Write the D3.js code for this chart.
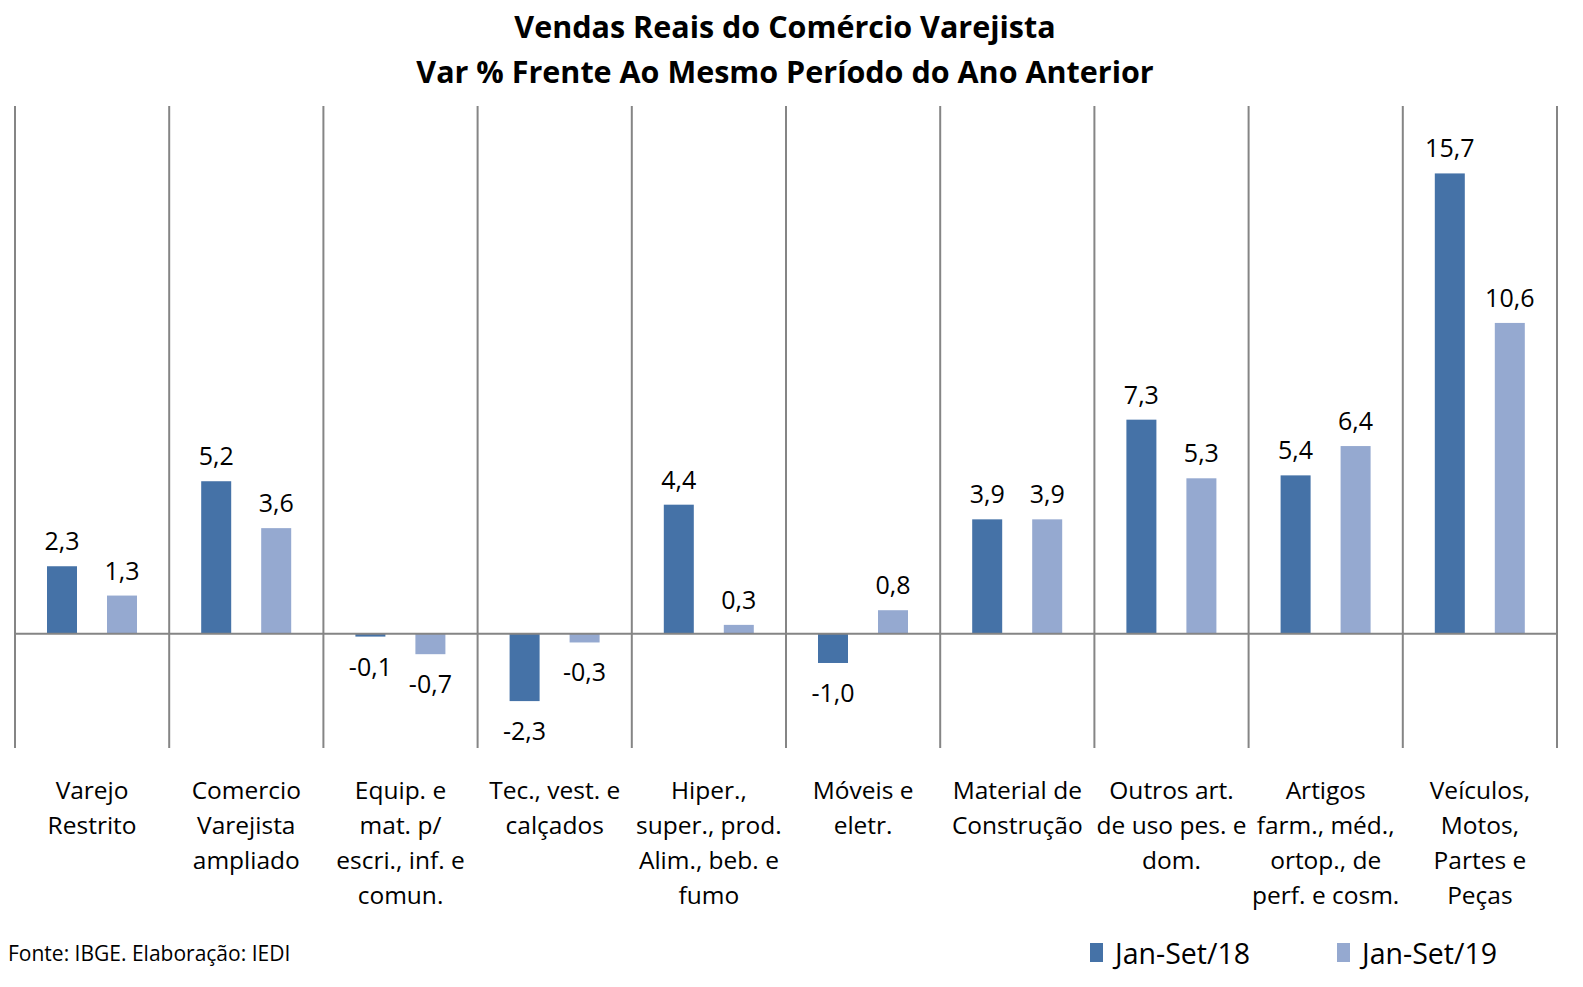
<!DOCTYPE html>
<html><head><meta charset="utf-8">
<script src="https://cdn.jsdelivr.net/npm/d3@7"></script>
<style>html,body{margin:0;padding:0;background:#fff;overflow:hidden}svg{display:block}text{font-family:"Open Sans",sans-serif;fill:#000}</style>
</head><body><svg id="c" width="1583" height="987"></svg>
<script>
const categories = [
  ["Varejo","Restrito"],
  ["Comercio","Varejista","ampliado"],
  ["Equip. e","mat. p/","escri., inf. e","comun."],
  ["Tec., vest. e","calçados"],
  ["Hiper.,","super., prod.","Alim., beb. e","fumo"],
  ["Móveis e","eletr."],
  ["Material de","Construção"],
  ["Outros art.","de uso pes. e","dom."],
  ["Artigos","farm., méd.,","ortop., de","perf. e cosm."],
  ["Veículos,","Motos,","Partes e","Peças"]
];
const seriesNames = ["Jan-Set/18","Jan-Set/19"];
const jan18 = [2.3, 5.2, -0.1, -2.3, 4.4, -1.0, 3.9, 7.3, 5.4, 15.7];
const jan19 = [1.3, 3.6, -0.7, -0.3, 0.3, 0.8, 3.9, 5.3, 6.4, 10.6];
const colors = ["#4572a7","#95a9d0"];
const title = ["Vendas Reais do Comércio Varejista","Var % Frente Ao Mesmo Período do Ano Anterior"];
const source = "Fonte: IBGE. Elaboração: IEDI";

const svg = d3.select("#c");
const L=15, R=1557, T=106, B=748;
const idx = d3.range(categories.length);
const x = d3.scaleBand().domain(idx).range([L,R]).padding(0);
const y = d3.scaleLinear().domain([-3.9,18]).range([B,T]);
const bw = 30;
const offs = [32, 92];
const fmt = v => d3.format(".1f")(v).replace(".",",").replace("−","-");

// title
svg.selectAll("text.title").data(title).join("text")
  .attr("x",785).attr("y",(d,i)=>38+i*45).attr("text-anchor","middle")
  .style("font-size","30.5px").style("font-weight","bold").text(d=>d);

// grid verticals
const bounds = idx.map(i=>x(i)).concat([R]);
svg.selectAll("line.v").data(bounds).join("line")
  .attr("x1",d=>d).attr("x2",d=>d).attr("y1",T).attr("y2",B)
  .attr("stroke","#858585").attr("stroke-width",2);

// bars
const series=[jan18,jan19];
series.forEach((s,si)=>{
  svg.selectAll("rect.s"+si).data(s).join("rect")
    .attr("x",(d,i)=>x(i)+offs[si]).attr("width",bw)
    .attr("y",d=>y(Math.max(0,d))).attr("height",d=>Math.abs(y(d)-y(0)))
    .attr("fill",colors[si]);
  svg.selectAll("text.l"+si).data(s).join("text")
    .attr("x",(d,i)=>x(i)+offs[si]+bw/2)
    .attr("y",d=> d>=0 ? y(d)-16 : y(d)+39)
    .attr("text-anchor","middle").style("font-size","25px").text(d=>fmt(d));
});

// zero line
svg.append("line").attr("x1",L).attr("x2",R).attr("y1",y(0)).attr("y2",y(0))
  .attr("stroke","#858585").attr("stroke-width",2);

// category labels
const g = svg.selectAll("g.cat").data(categories).join("g");
g.each(function(lines,i){
  d3.select(this).selectAll("text").data(lines).join("text")
    .attr("x",x(i)+x.bandwidth()/2).attr("y",(d,j)=>799+j*35)
    .attr("text-anchor","middle").style("font-size","24.5px").text(d=>d);
});

// source
svg.append("text").attr("x",8).attr("y",961).style("font-size","21px").text(source);

// legend
const lx=[1090,1337];
seriesNames.forEach((n,i)=>{
  svg.append("rect").attr("x",lx[i]).attr("y",943).attr("width",13).attr("height",19).attr("fill",colors[i]);
  svg.append("text").attr("x",lx[i]+25).attr("y",964).style("font-size","28.5px").text(n);
});
</script></body></html>
